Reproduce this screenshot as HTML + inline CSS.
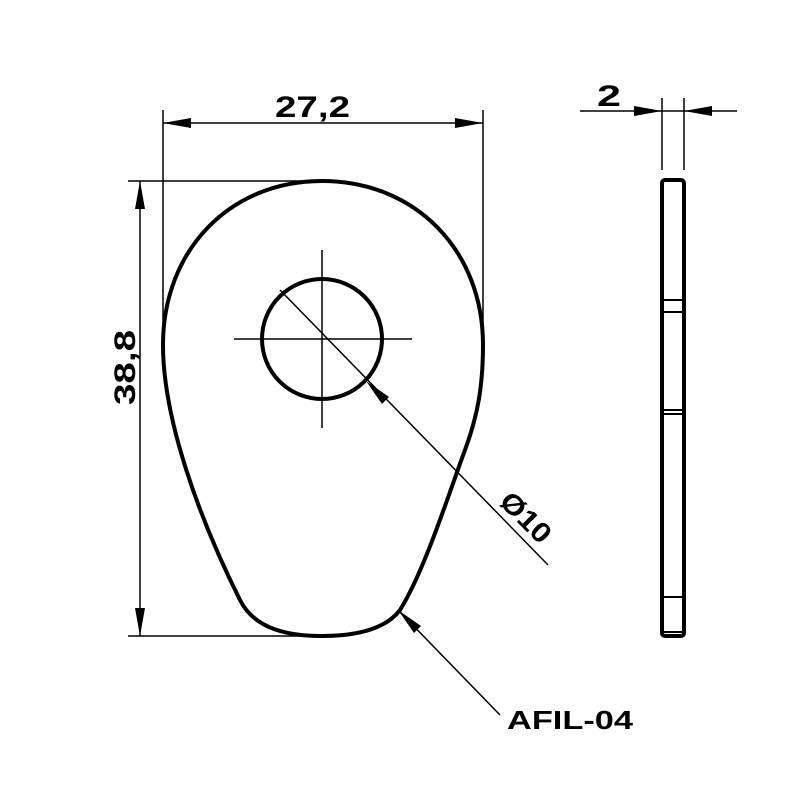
<!DOCTYPE html><html><head><style>body{margin:0;background:#fff}svg{display:block}text{font-family:"Liberation Sans",sans-serif;font-weight:bold;fill:#000}</style></head><body>
<svg width="800" height="800" viewBox="0 0 800 800">
<g stroke="#000" stroke-width="1.5" fill="none">
<line x1="163" y1="110" x2="163" y2="340"/><line x1="483" y1="110" x2="483" y2="350"/>
<line x1="163" y1="123" x2="483" y2="123"/>
<line x1="128" y1="181" x2="322" y2="181"/><line x1="128" y1="636" x2="322" y2="636"/>
<line x1="140" y1="181" x2="140" y2="636"/>
<line x1="580" y1="111" x2="737" y2="111"/>
<line x1="662" y1="98" x2="662" y2="170"/><line x1="684" y1="98" x2="684" y2="170"/>
<line x1="322" y1="250" x2="322" y2="428"/><line x1="234" y1="339" x2="412" y2="339"/>
<line x1="280" y1="290" x2="548" y2="565"/>
<line x1="400" y1="612" x2="500" y2="715"/>
</g>
<g fill="#000">
<polygon points="163,123 191,118 191,128"/><polygon points="483,123 455,118 455,128"/>
<polygon points="140,181 135,209 145,209"/><polygon points="140,636 135,608 145,608"/>
<polygon points="662,111 634,106 634,116"/><polygon points="684,111 712,106 712,116"/>
<polygon points="366,381 389,397 382,404"/>
<polygon points="398,610 421,626 414,633"/>
</g>
<path d="M322,181 C230,181 163,250 163,345 C163,420 200,520 240,600 C255,630 290,636 322,636 C355,636 385,630 400,610 C425,570 450,490 465,450 C478,415 483,385 483,345 C483,250 415,181 322,181 Z" fill="none" stroke="#000" stroke-width="4"/>
<circle cx="322" cy="339" r="60" fill="none" stroke="#000" stroke-width="4"/>
<rect x="662" y="180" width="22" height="456" rx="3" fill="none" stroke="#000" stroke-width="4"/>
<g stroke="#000" stroke-width="2"><line x1="662" y1="300" x2="684" y2="300"/><line x1="662" y1="312" x2="684" y2="312"/><line x1="662" y1="410" x2="684" y2="410"/><line x1="662" y1="414" x2="684" y2="414"/><line x1="662" y1="597" x2="684" y2="597"/><line x1="662" y1="632" x2="684" y2="632"/></g>
<text x="275" y="117" font-size="30" textLength="75" lengthAdjust="spacingAndGlyphs">27,2</text>
<text transform="translate(135,405) rotate(-90)" font-size="30" textLength="75" lengthAdjust="spacingAndGlyphs">38,8</text>
<text x="597" y="106" font-size="30" textLength="24" lengthAdjust="spacingAndGlyphs">2</text>
<text transform="translate(498,503) rotate(45)" font-size="28" textLength="60" lengthAdjust="spacingAndGlyphs">Ø10</text>
<text x="507" y="729" font-size="26" textLength="126" lengthAdjust="spacingAndGlyphs">AFIL-04</text>
</svg></body></html>
